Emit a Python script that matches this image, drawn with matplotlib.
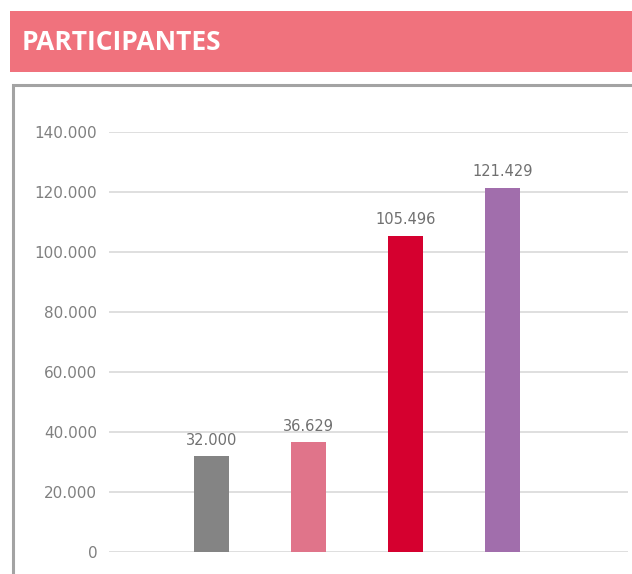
import matplotlib.pyplot as plt
from matplotlib.patches import Rectangle
from matplotlib.ticker import FuncFormatter

categories = ['A', 'B', 'C', 'D']
values = [32000, 36629, 105496, 121429]
colors = ['#848484', '#E0748A', '#D5002F', '#A16EAC']
yticks = [0, 20000, 40000, 60000, 80000, 100000, 120000, 140000]

W, H = 632, 574
fig = plt.figure(figsize=(W / 100, H / 100), dpi=100)

def fx(px):
    return px / W

def fy(py):
    return 1 - py / H

# title banner
fig.patches.append(Rectangle((fx(10), fy(72)), fx(640) - fx(10), fy(11) - fy(72),
                             transform=fig.transFigure, facecolor='#F0727D',
                             edgecolor='none', zorder=0))
fig.text(fx(22), fy(42), 'PARTICIPANTES', color='white', fontsize=19,
         fontweight='bold', family='Open Sans', va='center', ha='left')

# chart frame
fig.patches.append(Rectangle((fx(12.5), fy(600)), fx(700), fy(85.5) - fy(600),
                             transform=fig.transFigure, facecolor='none',
                             edgecolor='#A3A3A3', linewidth=2.2, zorder=0))

ax = fig.add_axes([fx(109), fy(552), fx(628) - fx(109), fy(132) - fy(552)])
x = list(range(len(categories)))
bars = ax.bar(x, values, width=0.36, color=colors, zorder=3)
ax.set_xlim(-1.06, 4.29)
ax.set_ylim(0, 140000)
ax.set_yticks(yticks)
ax.yaxis.set_major_formatter(FuncFormatter(lambda v, p: f'{int(v):,}'.replace(',', '.')))
ax.grid(axis='y', color='#D9D9D9', linewidth=1.2, zorder=0)
ax.set_xticks([])
for s in ax.spines.values():
    s.set_visible(False)
ax.tick_params(axis='y', length=0, pad=8.5, labelsize=11, labelcolor='#808080')

for xi, v in zip(x, values):
    ax.annotate(f'{v:,}'.replace(',', '.'), (xi, v), xytext=(0, 6),
                textcoords='offset points', ha='center', va='bottom',
                fontsize=10.5, color='#707070')

fig.savefig('out.png', dpi=100)
